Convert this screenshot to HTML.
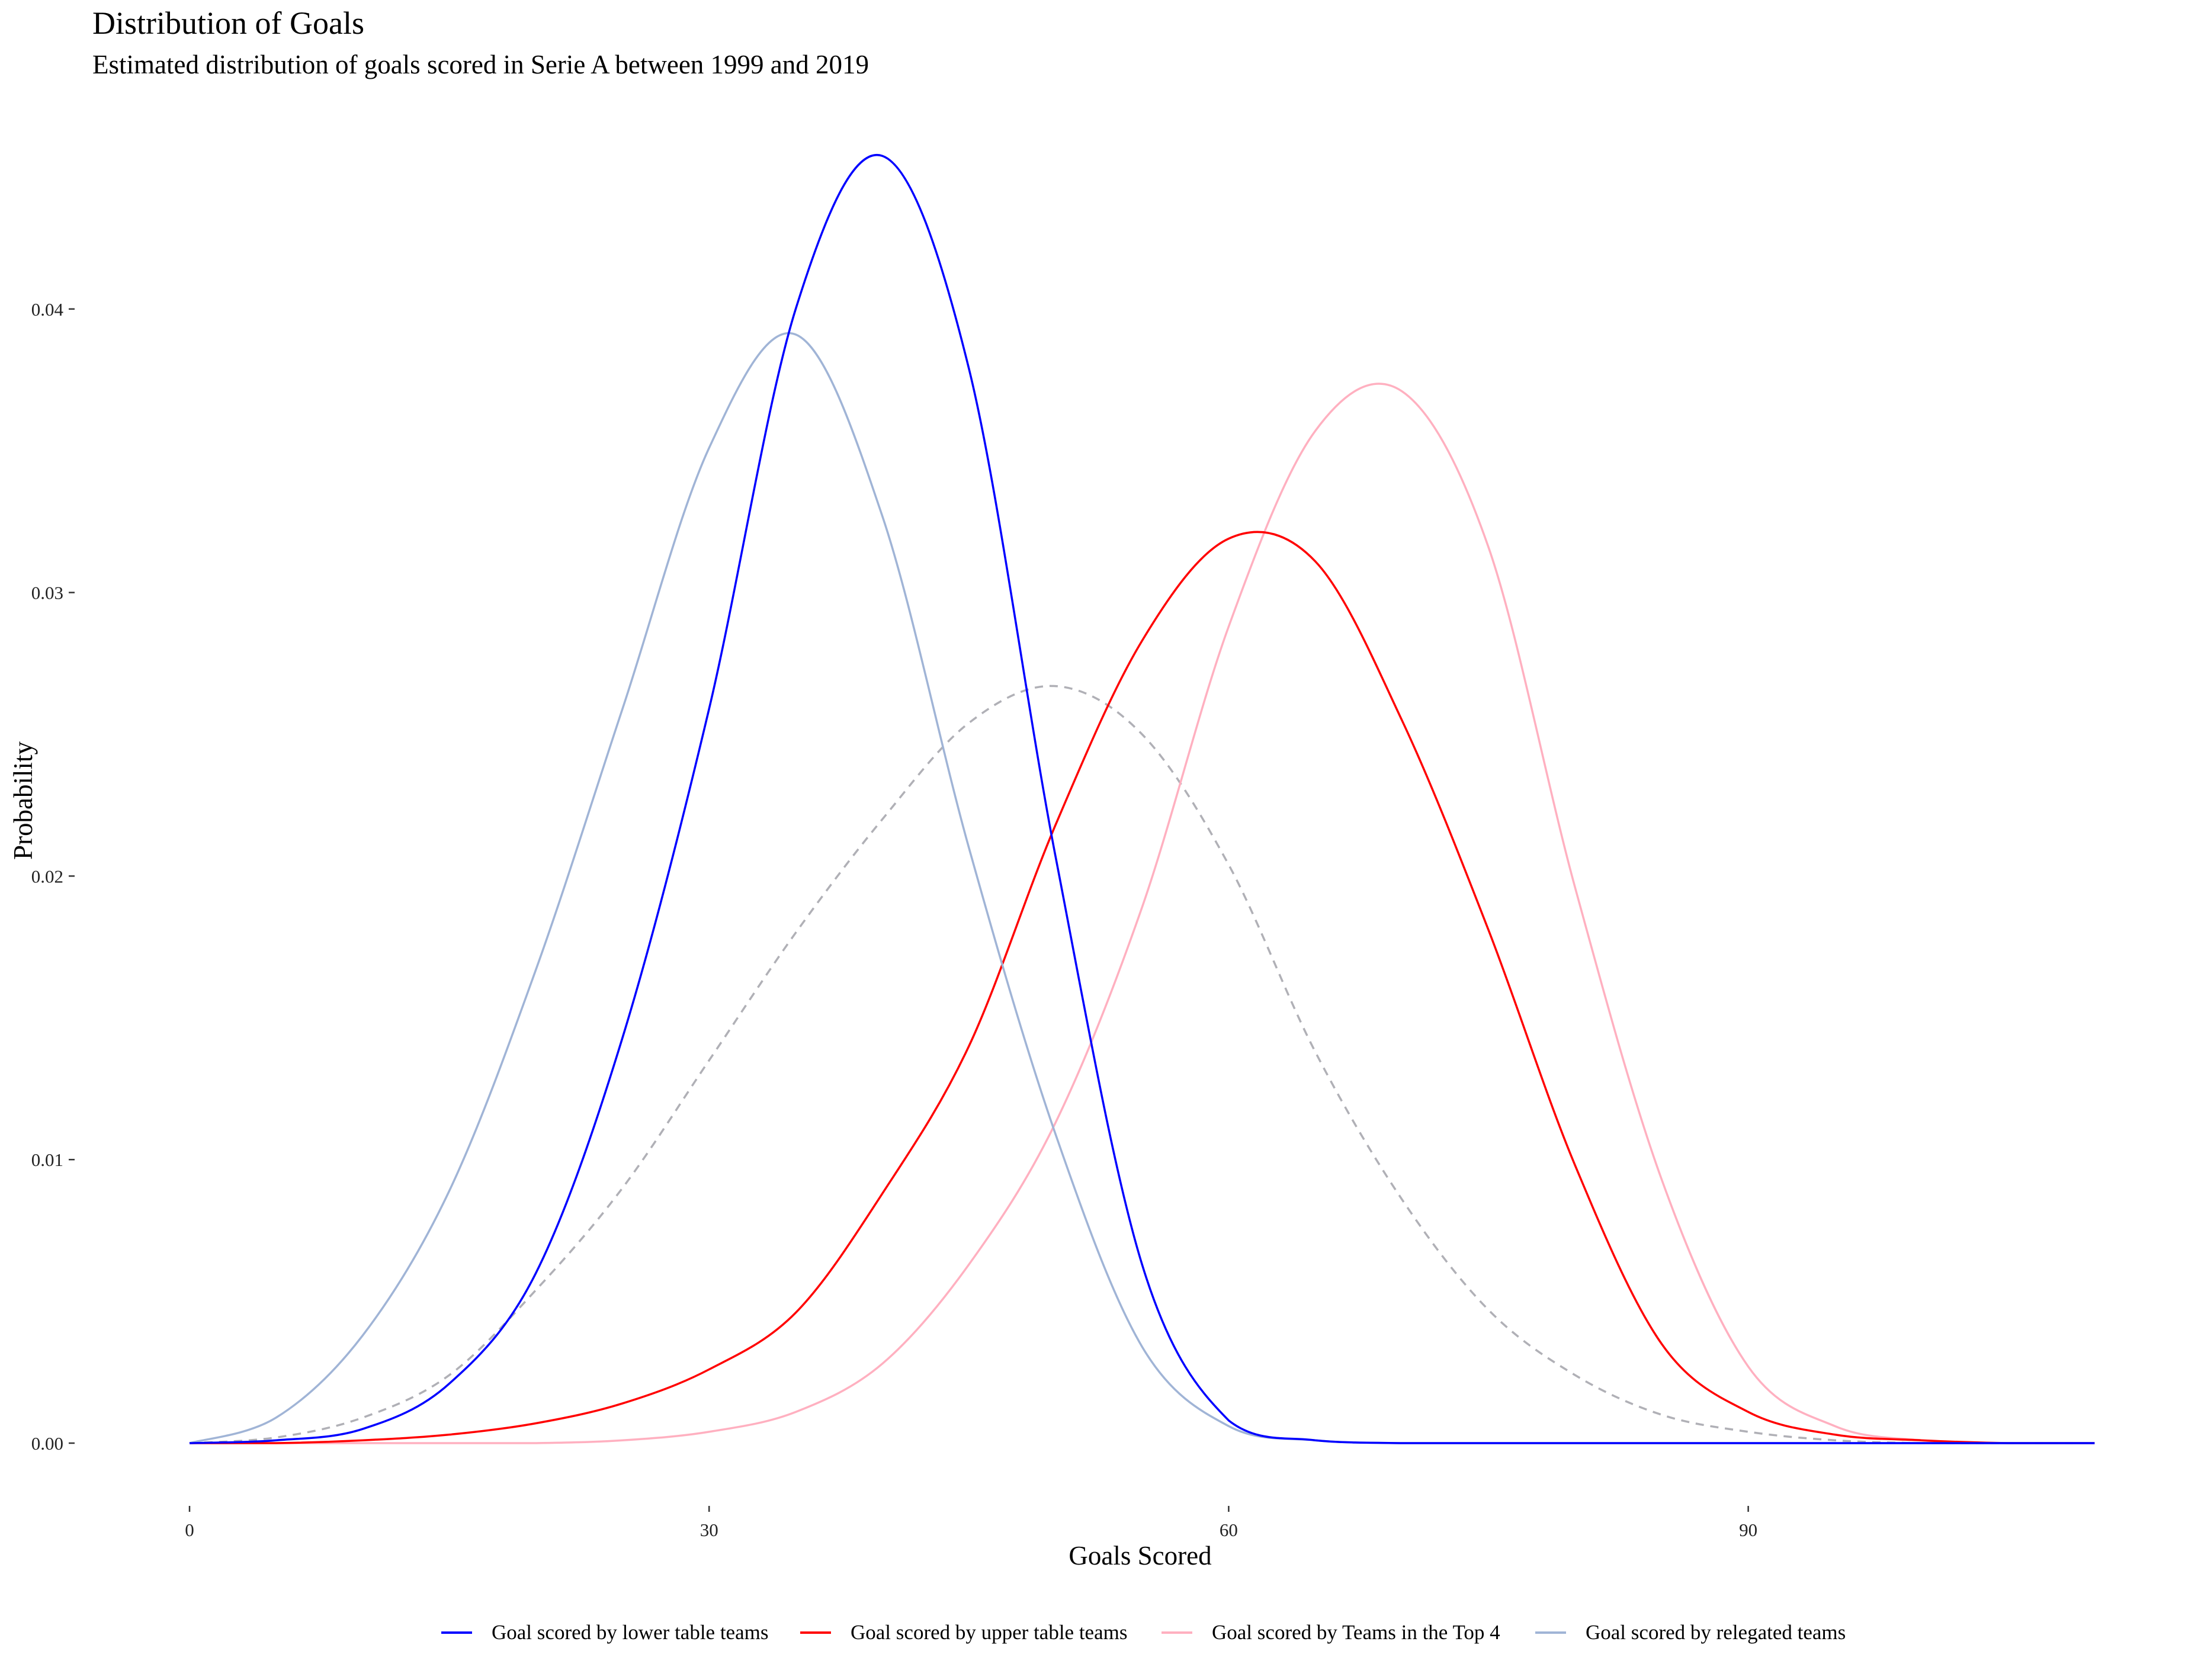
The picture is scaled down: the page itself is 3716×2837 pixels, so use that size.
<!DOCTYPE html>
<html><head><meta charset="utf-8"><style>
html,body{margin:0;padding:0;background:#fff;}
svg{display:block;font-family:"Liberation Serif",serif;}
</style></head><body>
<svg id="chart" width="3716" height="2837" viewBox="0 0 3716 2837" xmlns="http://www.w3.org/2000/svg">
<text x="156" y="57" font-size="54" fill="#000">Distribution of Goals</text>
<text x="156" y="124" font-size="45" fill="#000">Estimated distribution of goals scored in Serie A between 1999 and 2019</text>
<g id="yaxis"></g>
<g id="xaxis"></g>
<g id="series"></g>
<text x="0" y="0" transform="translate(54,1352) rotate(-90)" text-anchor="middle" font-size="45">Probability</text>
<text x="1925" y="2642" text-anchor="middle" font-size="45">Goals Scored</text>
<g id="legend"></g>
</svg>
<script>
const goals = [0,5,10,15,20,25,30,35,40,45,50,55,60,65,70,75,80,85,90,95,100,105,110];
const lowerTable = [0,0.0001,0.0005,0.0021,0.0060,0.0143,0.0259,0.0400,0.0454,0.0379,0.0207,0.0063,0.0008,0.0001,0,0,0,0,0,0,0,0,0];
const upperTable = [0,0,0.0001,0.0003,0.0007,0.0014,0.0026,0.0046,0.0088,0.0140,0.0218,0.0283,0.0319,0.0311,0.0255,0.0181,0.0098,0.0035,0.0011,0.0003,0.0001,0,0];
const top4 = [0,0,0,0,0,0.0001,0.0004,0.0011,0.0028,0.0063,0.0113,0.0189,0.0288,0.0357,0.0371,0.0316,0.0196,0.0093,0.0027,0.0006,0.0001,0,0];
const relegated = [0,0.0009,0.0038,0.0089,0.0167,0.0259,0.0351,0.0391,0.0327,0.0210,0.0109,0.0034,0.0006,0.0001,0,0,0,0,0,0,0,0,0];
const overall = [0,0.0002,0.0009,0.0024,0.0054,0.0090,0.0135,0.0180,0.0220,0.0254,0.0267,0.0250,0.0204,0.0138,0.0086,0.0047,0.0024,0.0010,0.0004,0.0001,0,0,0];
const yTicks = [0,0.01,0.02,0.03,0.04];
const yTickLabels = ["0.00","0.01","0.02","0.03","0.04"];
const xTicks = [0,30,60,90];
const xTickLabels = ["0","30","60","90"];
const legendLabels = ["Goal scored by lower table teams","Goal scored by upper table teams","Goal scored by Teams in the Top 4","Goal scored by relegated teams"];

const NS="http://www.w3.org/2000/svg";
function X(g){return 320+29.24*g;}
function Y(v){return 2437-47880*v;}
function mk(tag,attrs,parent){const e=document.createElementNS(NS,tag);for(const k in attrs)e.setAttribute(k,attrs[k]);parent.appendChild(e);return e;}

const ya=document.getElementById('yaxis');
yTicks.forEach((t,i)=>{
  const tx=mk('text',{x:107,y:Y(t)+11,'text-anchor':'end','font-size':31,fill:'#222'},ya);
  tx.textContent=yTickLabels[i];
  
  
  const ln=mk('line',{x1:116,x2:126,y1:Y(t),y2:Y(t),stroke:'#333','stroke-width':2.5},ya);
  
  
});
const xa=document.getElementById('xaxis');
xTicks.forEach((t,i)=>{
  const ln=mk('line',{x1:X(t),x2:X(t),y1:2543,y2:2553,stroke:'#333','stroke-width':2.5},xa);
  
  
  const tx=mk('text',{x:X(t),y:2594,'text-anchor':'middle','font-size':31,fill:'#222'},xa);
  tx.textContent=xTickLabels[i];
  
  
});

function pathFor(vals){
  const p=goals.map((g,i)=>[X(g),Y(vals[i])]);
  let d='M'+p[0][0]+','+p[0][1];
  for(let i=0;i<p.length-1;i++){
    const p0=p[Math.max(0,i-1)],p1=p[i],p2=p[i+1],p3=p[Math.min(p.length-1,i+2)];
    let c1y=p1[1]+(p2[1]-p0[1])/6, c2y=p2[1]-(p3[1]-p1[1])/6;
    c1y=Math.min(c1y,Y(0)); c2y=Math.min(c2y,Y(0));
    d+=' C'+(p1[0]+(p2[0]-p0[0])/6)+','+c1y+' '+(p2[0]-(p3[0]-p1[0])/6)+','+c2y+' '+p2[0]+','+p2[1];
  }
  return d;
}
const sg=document.getElementById('series');
const ov=mk('path',{d:pathFor(overall),fill:'none',stroke:'#b0b0b6','stroke-width':3.5,'stroke-dasharray':'14,11'},sg);


const series=[[top4,'#ffb0c0','top4-line'],[upperTable,'#ff0000','upper-table-line'],[relegated,'#a0b4d6','relegated-line'],[lowerTable,'#0000ff','lower-table-line']];
series.forEach(s=>{
  const el=mk('path',{d:pathFor(s[0]),fill:'none',stroke:s[1],'stroke-width':3.5},sg);
  
  
});

const lg=document.getElementById('legend');
const lcol=['#0000ff','#ff0000','#ffb0c0','#a0b4d6'];
const lx=[745,1351,1961,2592];
legendLabels.forEach((lab,i)=>{
  const ln=mk('line',{x1:lx[i],x2:lx[i]+52,y1:2757,y2:2757,stroke:lcol[i],'stroke-width':4},lg);
  
  
  const tx=mk('text',{x:lx[i]+85,y:2768,'font-size':35,fill:'#000'},lg);
  tx.textContent=lab;
  
  
});
</script>
</body></html>
